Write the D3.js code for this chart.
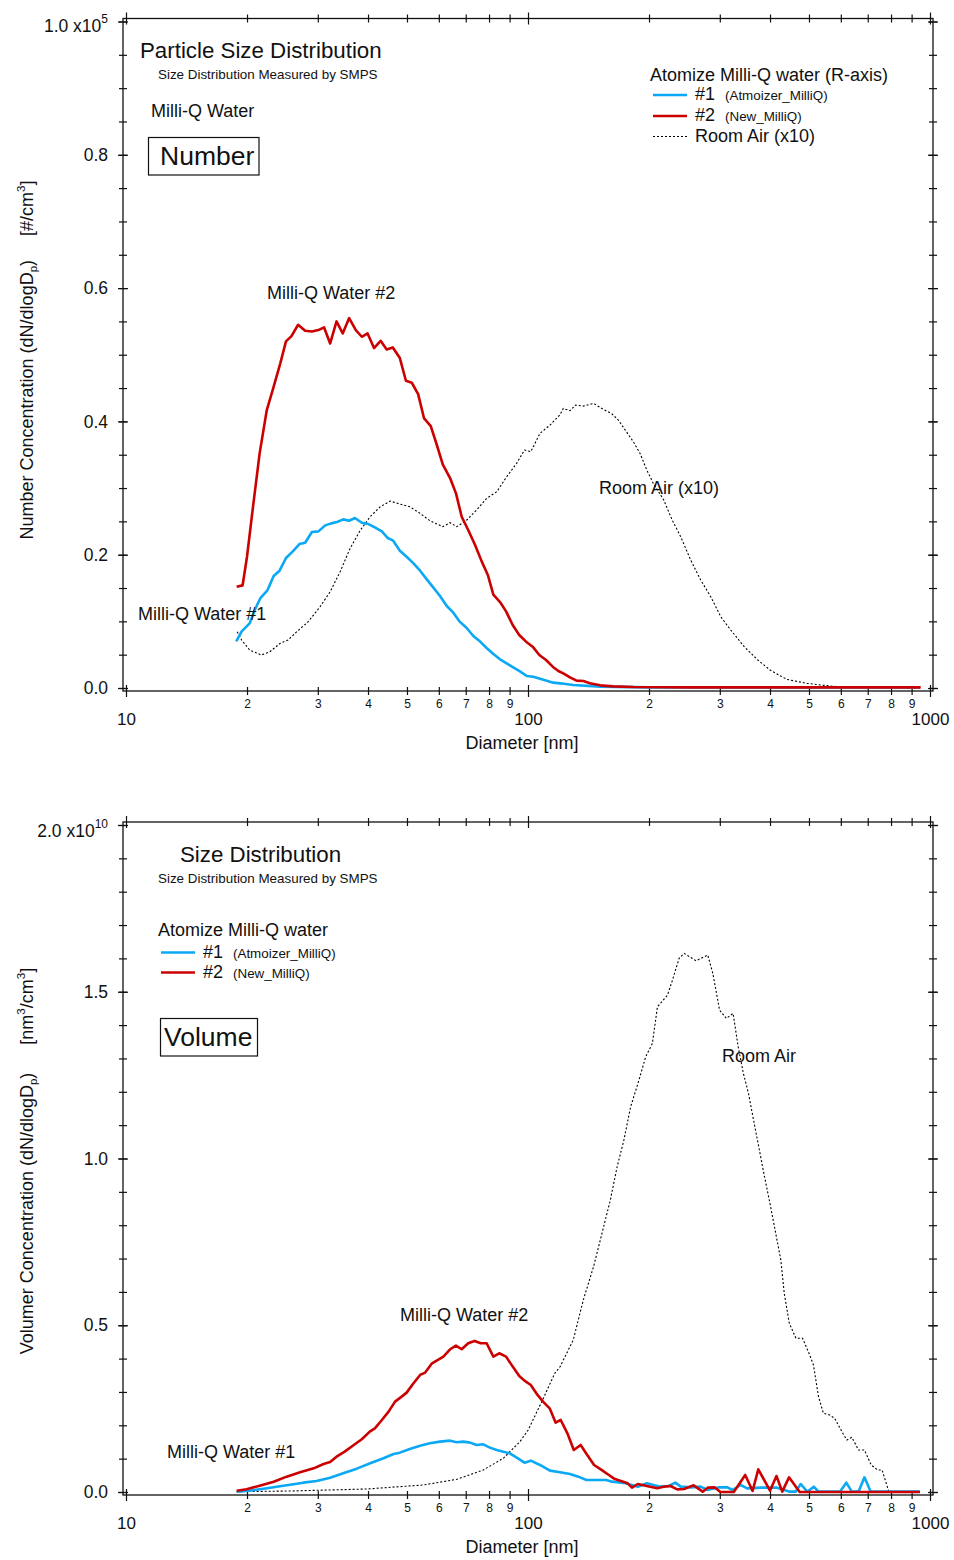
<!DOCTYPE html>
<html>
<head>
<meta charset="utf-8">
<script src="https://cdn.jsdelivr.net/npm/d3@7"></script>
<style>
  body { margin: 0; background: #fff; }
  svg { display: block; font-family: "Liberation Sans", Arial, sans-serif; }
</style>
</head>
<body>
<svg id="chart" width="954" height="1560"></svg>
<script>
// ---- number distribution (x1e5 #/cm3), diameters in nm ----
const numD1 = [18.8, 19.4, 20.3, 20.9, 21.6, 22.5, 23.3, 24.1, 25.0, 26.0, 27.0, 27.9, 29.0, 30.1, 31.3, 32.4, 33.5, 34.7, 35.9, 37.1, 38.6, 40.1, 41.6, 43.3, 44.8, 46.2, 48.0, 49.9, 51.9, 53.9, 56.0, 58.1, 60.4, 62.8, 65.2, 67.5, 70.4, 73.1, 75.9, 78.9, 82.0, 85.2, 88.5, 91.9, 95.5, 99.3, 103.1, 107.1, 111.3, 115.6, 120.2, 129.6, 151, 200, 300, 500, 700, 944]
const numV1 = [0.070, 0.085, 0.097, 0.117, 0.135, 0.147, 0.168, 0.176, 0.195, 0.205, 0.216, 0.218, 0.234, 0.235, 0.244, 0.247, 0.249, 0.253, 0.251, 0.255, 0.248, 0.246, 0.241, 0.235, 0.225, 0.221, 0.206, 0.197, 0.187, 0.176, 0.163, 0.151, 0.138, 0.123, 0.113, 0.100, 0.090, 0.078, 0.070, 0.060, 0.051, 0.043, 0.037, 0.031, 0.025, 0.018, 0.017, 0.014, 0.011, 0.008, 0.007, 0.0045, 0.002, 0.001, 0.001, 0.0008, 0.0008, 0.0008]

const numD2 = [18.85, 19.5, 20.0, 20.7, 21.5, 22.4, 23.3, 24.2, 25.0, 25.8, 26.8, 27.9, 29.0, 30.1, 31.1, 32.2, 33.4, 34.6, 35.9, 37.3, 38.6, 39.9, 41.4, 43.0, 44.5, 46.1, 48.0, 49.7, 51.4, 53.3, 55.1, 57.3, 59.3, 61.4, 64.0, 66.2, 68.4, 71.0, 73.8, 76.7, 79.4, 82.0, 85.2, 88.2, 91.6, 95.1, 98.9, 102.7, 106.7, 110.9, 115.2, 119.0, 122.4, 127.2, 132.1, 137.3, 142.6, 151.1, 163, 183, 250, 400, 600, 948]
const numV2 = [0.152, 0.154, 0.197, 0.272, 0.352, 0.417, 0.452, 0.487, 0.520, 0.528, 0.545, 0.536, 0.535, 0.537, 0.541, 0.517, 0.550, 0.532, 0.555, 0.537, 0.527, 0.532, 0.510, 0.521, 0.508, 0.511, 0.495, 0.461, 0.458, 0.441, 0.405, 0.393, 0.365, 0.335, 0.315, 0.292, 0.257, 0.237, 0.215, 0.190, 0.170, 0.140, 0.129, 0.115, 0.0945, 0.0795, 0.0695, 0.062, 0.0495, 0.042, 0.032, 0.0255, 0.022, 0.016, 0.011, 0.0105, 0.007, 0.004, 0.0025, 0.0015, 0.001, 0.001, 0.001, 0.001]

const numDAir = [18.9, 19.4, 20.3, 21.7, 22.8, 24.2, 25.3, 26.6, 28.4, 30.4, 32.2, 34.1, 36.1, 38.3, 40.5, 42.9, 45.4, 48.0, 50.8, 53.9, 57.0, 61.4, 64.0, 66.5, 70.4, 74.5, 78.9, 83.6, 88.5, 93.7, 98.0, 101.6, 107.1, 113.4, 120.1, 122.4, 127.2, 131.3, 137.3, 145.6, 153.9, 161.3, 167.8, 174.5, 182.8, 190, 197.5, 205, 217.6, 228.4, 239.8, 253.9, 268.9, 284.8, 301.6, 319.4, 345, 373, 400, 440, 494, 563, 630, 750, 944]
const numVAir = [0.0845, 0.072, 0.057, 0.0495, 0.0545, 0.067, 0.072, 0.0845, 0.0995, 0.122, 0.1445, 0.1745, 0.2095, 0.237, 0.257, 0.272, 0.2805, 0.276, 0.272, 0.262, 0.251, 0.242, 0.248, 0.242, 0.252, 0.267, 0.2845, 0.2945, 0.317, 0.337, 0.357, 0.3545, 0.382, 0.3945, 0.410, 0.4195, 0.416, 0.4245, 0.423, 0.427, 0.418, 0.412, 0.402, 0.387, 0.3695, 0.352, 0.327, 0.307, 0.282, 0.252, 0.227, 0.192, 0.162, 0.137, 0.107, 0.087, 0.062, 0.042, 0.027, 0.013, 0.007, 0.003, 0.001, 0.0005, 0.0]

// ---- volume distribution (x1e10 nm3/cm3) ----
const volD1 = [18.85, 20.3, 22.0, 23.7, 25.6, 27.6, 29.8, 32.2, 34.7, 37.5, 40.5, 43.7, 46.3, 48.0, 50.8, 53.9, 57.0, 60.4, 64.0, 66.5, 69.0, 71.8, 74.5, 77.4, 80.4, 83.6, 86.8, 90.1, 94.4, 98.0, 101.6, 107.1, 113.4, 120.1, 127.2, 133.4, 139.7, 156.5, 162, 175, 187.6, 197.5, 213.3, 224, 232.5, 239.8, 253.9, 268.9, 279.4, 298.8, 313.4, 322.5, 338, 351, 378.6, 416.5, 448, 463, 477, 495, 514, 528, 597, 619, 639, 664, 687, 712, 944]
const volV1 = [0.001, 0.004, 0.010, 0.016, 0.022, 0.028, 0.033, 0.043, 0.056, 0.070, 0.086, 0.101, 0.114, 0.118, 0.129, 0.139, 0.146, 0.151, 0.154, 0.149, 0.151, 0.148, 0.141, 0.143, 0.133, 0.126, 0.121, 0.116, 0.101, 0.088, 0.094, 0.081, 0.064, 0.059, 0.054, 0.046, 0.036, 0.036, 0.031, 0.026, 0.016, 0.026, 0.016, 0.018, 0.028, 0.016, 0.014, 0.016, 0.006, 0.014, 0.014, 0.006, 0.021, 0.011, 0.013, 0.013, 0.001, 0.001, 0.024, 0.001, 0.016, 0.001, 0.001, 0.028, 0.001, 0.001, 0.044, 0.001, 0.001]

const volD2 = [18.85, 19.96, 21.5, 23.3, 25.1, 27.1, 29.3, 31.0, 32.2, 33.4, 35.0, 36.8, 38.6, 40.4, 41.6, 43.3, 45.0, 46.7, 48.5, 49.9, 51.9, 53.9, 55.5, 57.7, 60.0, 61.6, 64.0, 66.2, 68.4, 71.0, 73.6, 76.3, 78.9, 82.0, 84.8, 88.2, 91.6, 95.1, 98.0, 101.6, 105.6, 109.0, 113.2, 117.2, 120.6, 125.3, 130.0, 135.2, 140.4, 146, 151.7, 157.6, 163.8, 170.3, 176.9, 181.4, 187.5, 197.5, 209.6, 217.6, 226.2, 235.1, 244.4, 258.3, 272, 280, 291, 301, 325, 347, 362, 374, 400, 415, 429, 446, 474, 944]
const volV2 = [0.004, 0.008, 0.019, 0.031, 0.046, 0.059, 0.071, 0.084, 0.090, 0.106, 0.121, 0.140, 0.158, 0.181, 0.191, 0.216, 0.241, 0.271, 0.286, 0.298, 0.326, 0.351, 0.358, 0.386, 0.398, 0.406, 0.428, 0.439, 0.428, 0.446, 0.453, 0.446, 0.446, 0.406, 0.416, 0.406, 0.376, 0.348, 0.334, 0.321, 0.291, 0.271, 0.251, 0.208, 0.216, 0.176, 0.126, 0.141, 0.111, 0.081, 0.068, 0.054, 0.040, 0.033, 0.026, 0.013, 0.024, 0.018, 0.011, 0.016, 0.018, 0.008, 0.009, 0.020, 0.001, 0.013, 0.014, 0.0, 0.0, 0.051, 0.003, 0.068, 0.004, 0.048, 0.001, 0.044, 0.0, 0.0]

const volDAir = [18.85, 25.6, 39.7, 54.9, 66.5, 77.4, 86.8, 95.5, 100.1, 108.7, 116.6, 120.2, 129.6, 137.3, 145.6, 152.8, 160.3, 166.6, 173.2, 180, 188.8, 196.2, 203.9, 209.9, 222.3, 228.8, 237.6, 244.6, 261.8, 280, 288.3, 299.6, 311.4, 323.7, 333.3, 343.4, 353.6, 364, 375, 386, 401.4, 413.2, 425.5, 433.9, 446.7, 464, 482, 500, 513, 528, 543, 563, 579, 607, 621, 639, 664, 687, 714, 741, 760, 790, 944]
const volVAir = [0.001, 0.003, 0.009, 0.021, 0.038, 0.066, 0.101, 0.151, 0.186, 0.276, 0.356, 0.376, 0.456, 0.576, 0.676, 0.776, 0.876, 0.975, 1.055, 1.155, 1.235, 1.305, 1.345, 1.455, 1.490, 1.535, 1.600, 1.615, 1.593, 1.610, 1.555, 1.445, 1.420, 1.435, 1.335, 1.255, 1.195, 1.115, 1.035, 0.956, 0.855, 0.776, 0.696, 0.596, 0.506, 0.461, 0.461, 0.416, 0.381, 0.286, 0.236, 0.231, 0.221, 0.176, 0.156, 0.164, 0.126, 0.126, 0.081, 0.066, 0.066, 0.001, 0.001]

// ---- ticks ----
const xMajorTicks = [10, 100, 1000]
const xMajorLabels = ['10', '100', '1000']
const xMinorTicks = [20, 30, 40, 50, 60, 70, 80, 90, 200, 300, 400, 500, 600, 700, 800, 900]
const xMinorLabels = ['2', '3', '4', '5', '6', '7', '8', '9', '2', '3', '4', '5', '6', '7', '8', '9']
const numYTicks = [0, 0.2, 0.4, 0.6, 0.8, 1.0]
const numYLabels = ['0.0', '0.2', '0.4', '0.6', '0.8', '1.0 x10']
const volYTicks = [0, 0.5, 1.0, 1.5, 2.0]
const volYLabels = ['0.0', '0.5', '1.0', '1.5', '2.0 x10']

const blue = '#0aa8f5'
const red = '#cc0000'
const ink = '#111'

const svg = d3.select('#chart')

function panel (p) {
  const g = svg.append('g').attr('color', ink)
  const x = d3.scaleLog().domain([10, 1000]).range([126, 930])
  const y = d3.scaleLinear().domain([0, p.yMax]).range([p.y0, p.y1])
  const fTop = p.y1 - 3
  const fBot = p.y0 + 3
  const minor = d3.range(0, p.yMax + 1e-9, p.yMinor)

  const cross = (sel, len, vert) => sel.selectAll('.tick line')
    .attr(vert ? 'y1' : 'x1', -len).attr(vert ? 'y2' : 'x2', len)
    .attr('stroke-width', 1.2)

  // frame
  g.append('rect')
    .attr('x', 123).attr('y', fTop)
    .attr('width', 933 - 123).attr('height', fBot - fTop)
    .attr('fill', 'none').attr('stroke', ink).attr('stroke-width', 1.3)

  // left axis
  g.append('g').attr('transform', 'translate(123,0)')
    .call(d3.axisLeft(y).tickValues(minor).tickFormat('').tickSize(4))
    .call(s => s.select('.domain').remove())
    .call(s => cross(s, 4, false))
  const left = g.append('g').attr('transform', 'translate(123,0)')
    .call(d3.axisLeft(y).tickValues(p.yTicks).tickFormat((d, i) => p.yLabels[i]).tickSize(5).tickPadding(10))
    .call(s => s.select('.domain').remove())
    .call(s => cross(s, 5, false))
  left.selectAll('text').attr('font-size', 17.5).attr('font-family', null)
  left.select('.tick:last-of-type text')
    .attr('y', p.expShift)
    .append('tspan').attr('font-size', 12).attr('dy', '-0.75em').text(p.exp)

  // right axis
  g.append('g').attr('transform', 'translate(933,0)')
    .call(d3.axisRight(y).tickValues(minor).tickFormat('').tickSize(4))
    .call(s => s.select('.domain').remove())
    .call(s => cross(s, 4, false))
  g.append('g').attr('transform', 'translate(933,0)')
    .call(d3.axisRight(y).tickValues(p.yTicks).tickFormat('').tickSize(5))
    .call(s => s.select('.domain').remove())
    .call(s => cross(s, 5, false))

  // bottom axis
  const bMin = g.append('g').attr('transform', `translate(0,${fBot})`)
    .call(d3.axisBottom(x).tickValues(xMinorTicks).tickFormat((d, i) => xMinorLabels[i]).tickSize(4))
    .call(s => s.select('.domain').remove())
    .call(s => cross(s, 4, true))
  bMin.selectAll('text').attr('font-size', 12).attr('font-family', null)
    .attr('y', 13).attr('dy', '0.35em')
  const bMaj = g.append('g').attr('transform', `translate(0,${fBot})`)
    .call(d3.axisBottom(x).tickValues(xMajorTicks).tickFormat((d, i) => xMajorLabels[i]).tickSize(6))
    .call(s => s.select('.domain').remove())
    .call(s => cross(s, 6, true))
  bMaj.selectAll('text').attr('font-size', 17).attr('font-family', null)
    .attr('y', 28).attr('dy', '0.35em')

  // top axis
  g.append('g').attr('transform', `translate(0,${fTop})`)
    .call(d3.axisTop(x).tickValues(xMinorTicks).tickFormat('').tickSize(4))
    .call(s => s.select('.domain').remove())
    .call(s => cross(s, 4, true))
  g.append('g').attr('transform', `translate(0,${fTop})`)
    .call(d3.axisTop(x).tickValues(xMajorTicks).tickFormat('').tickSize(6))
    .call(s => s.select('.domain').remove())
    .call(s => cross(s, 6, true))

  g.append('text').attr('x', 522).attr('y', fBot + 52).attr('dy', '0.35em')
    .attr('text-anchor', 'middle').attr('font-size', 18).attr('fill', ink)
    .text('Diameter [nm]')

  // y label
  const yl = g.append('text')
    .attr('transform', `translate(33,${p.yLabelY}) rotate(-90)`)
    .attr('text-anchor', 'middle').attr('font-size', 18).attr('fill', ink)
  p.yLabel(yl)

  // data
  const line = d3.line().x(d => x(d[0])).y(d => y(d[1]))
  g.append('path').datum(d3.zip(p.airD, p.airV))
    .attr('fill', 'none').attr('stroke', '#000').attr('stroke-width', 1.1)
    .attr('stroke-dasharray', '2,2').attr('d', line)
  g.append('path').datum(d3.zip(p.d1, p.v1))
    .attr('fill', 'none').attr('stroke', blue).attr('stroke-width', 2.6)
    .attr('stroke-linejoin', 'round').attr('d', line)
  g.append('path').datum(d3.zip(p.d2, p.v2))
    .attr('fill', 'none').attr('stroke', red).attr('stroke-width', 2.6)
    .attr('stroke-linejoin', 'round').attr('d', line)

  return g
}

function label (g, x, y, size, txt) {
  return g.append('text').attr('x', x).attr('y', y)
    .attr('font-size', size).attr('fill', ink).text(txt)
}

function legendRow (g, x, y, stroke, dash, main, small) {
  g.append('line').attr('x1', x).attr('x2', x + 34).attr('y1', y).attr('y2', y)
    .attr('stroke', stroke).attr('stroke-width', dash ? 1.1 : 2.6)
    .attr('stroke-dasharray', dash ? '2,2' : null)
  label(g, x + 42, y + 5, 18, main)
  if (small) label(g, x + 72, y + 5, 13.4, small)
}

// ---------- upper panel: number ----------
const numPanel = panel({
  y0: 688, y1: 21.5, yMax: 1.0, yMinor: 0.05,
  yTicks: numYTicks, yLabels: numYLabels, exp: '5', expShift: 4.5,
  d1: numD1, v1: numV1, d2: numD2, v2: numV2, airD: numDAir, airV: numVAir,
  yLabelY: 360,
  yLabel: t => {
    t.append('tspan').text('Number Concentration (dN/dlogD')
    t.append('tspan').attr('font-size', 11.5).attr('dy', 4).text('p')
    t.append('tspan').attr('dy', -4).text(')')
    t.append('tspan').attr('dx', 24).text('[#/cm')
    t.append('tspan').attr('font-size', 11.5).attr('dy', -8).text('3')
    t.append('tspan').attr('dy', 8).text(']')
  }
})
label(numPanel, 140, 57.5, 22.3, 'Particle Size Distribution')
label(numPanel, 158, 79, 13.4, 'Size Distribution Measured by SMPS')
label(numPanel, 151, 117, 18, 'Milli-Q Water')
numPanel.append('rect').attr('x', 148.5).attr('y', 137.5).attr('width', 110.5).attr('height', 37.5)
  .attr('fill', 'none').attr('stroke', ink).attr('stroke-width', 1.2)
label(numPanel, 160, 164.5, 26.5, 'Number')
label(numPanel, 650, 80.5, 18, 'Atomize Milli-Q water (R-axis)')
legendRow(numPanel, 653, 95, blue, false, '#1', '(Atmoizer_MilliQ)')
legendRow(numPanel, 653, 116, red, false, '#2', '(New_MilliQ)')
legendRow(numPanel, 653, 136.5, '#000', true, 'Room Air (x10)')
label(numPanel, 267, 298.5, 18, 'Milli-Q Water #2')
label(numPanel, 599, 494, 18, 'Room Air (x10)')
label(numPanel, 138, 620, 18, 'Milli-Q Water #1')

// ---------- lower panel: volume ----------
const volPanel = panel({
  y0: 1492, y1: 825, yMax: 2.0, yMinor: 0.1,
  yTicks: volYTicks, yLabels: volYLabels, exp: '10', expShift: 6,
  d1: volD1, v1: volV1, d2: volD2, v2: volV2, airD: volDAir, airV: volVAir,
  yLabelY: 1161,
  yLabel: t => {
    t.append('tspan').text('Volumer Concentration (dN/dlogD')
    t.append('tspan').attr('font-size', 11.5).attr('dy', 4).text('p')
    t.append('tspan').attr('dy', -4).text(')')
    t.append('tspan').attr('dx', 28).text('[nm')
    t.append('tspan').attr('font-size', 11.5).attr('dy', -8).text('3')
    t.append('tspan').attr('dy', 8).text('/cm')
    t.append('tspan').attr('font-size', 11.5).attr('dy', -8).text('3')
    t.append('tspan').attr('dy', 8).text(']')
  }
})
label(volPanel, 180, 861.5, 22.3, 'Size Distribution')
label(volPanel, 158, 882.5, 13.4, 'Size Distribution Measured by SMPS')
label(volPanel, 158, 936, 18, 'Atomize Milli-Q water')
legendRow(volPanel, 161, 952.5, blue, false, '#1', '(Atmoizer_MilliQ)')
legendRow(volPanel, 161, 972.5, red, false, '#2', '(New_MilliQ)')
volPanel.append('rect').attr('x', 160.5).attr('y', 1018.5).attr('width', 97).attr('height', 37.5)
  .attr('fill', 'none').attr('stroke', ink).attr('stroke-width', 1.2)
label(volPanel, 164, 1045.5, 26.5, 'Volume')
label(volPanel, 722, 1061.5, 18, 'Room Air')
label(volPanel, 400, 1320.5, 18, 'Milli-Q Water #2')
label(volPanel, 167, 1458, 18, 'Milli-Q Water #1')
</script>
</body>
</html>
